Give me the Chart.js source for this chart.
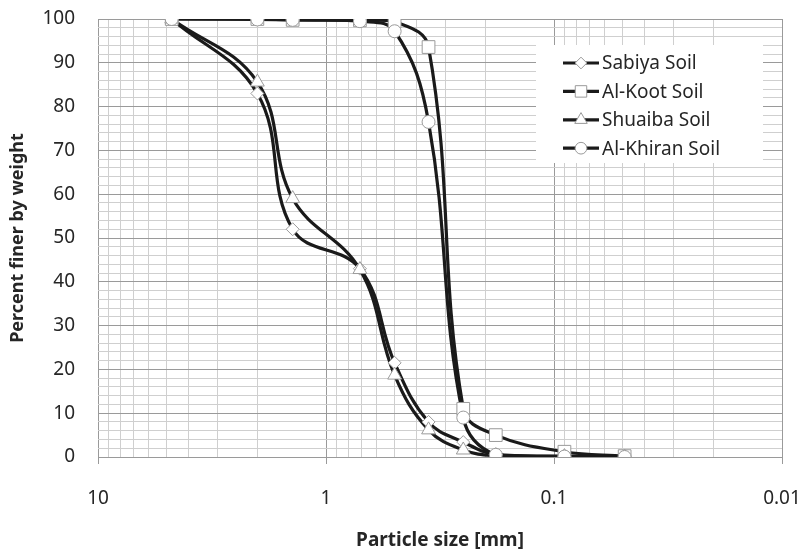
<!DOCTYPE html>
<html>
<head>
<meta charset="utf-8">
<script src="https://cdn.jsdelivr.net/npm/chart.js@4/dist/chart.umd.min.js"></script>
<style>
html,body{margin:0;padding:0;background:#fff;}
#wrap{width:805px;height:550px;position:relative;}
</style>
</head>
<body>
<div id="wrap"><canvas id="c"></canvas></div>
<script>
// ---- data ----
const particleSizes = [4.75, 2.0, 1.4, 0.71, 0.5, 0.355, 0.25, 0.18, 0.09, 0.049];
const sabiyaSoil   = [100, 83, 52, 43, 21.5, 8, 3.4, 0.6, 0.2, 0];
const alKootSoil   = [100, 100, 99.8, 99.7, 99.4, 93.6, 11, 5, 1.2, 0.2];
const shuaibaSoil  = [100, 85.6, 59, 42.8, 18.7, 6.2, 1.6, 0.3, 0.1, 0];
const alKhiranSoil = [100, 99.9, 99.8, 99.5, 97.2, 76.5, 9, 0.5, 0.1, 0];
const seriesNames  = ['Sabiya Soil', 'Al-Koot Soil', 'Shuaiba Soil', 'Al-Khiran Soil'];
const seriesStyles = ['rectRot', 'rect', 'triangle', 'circle'];

const xGridValues = [10, 9, 8, 7, 6, 5, 4, 3, 2,
                     1, 0.9, 0.8, 0.7, 0.6, 0.5, 0.4, 0.3, 0.2,
                     0.1, 0.09, 0.08, 0.07, 0.06, 0.05, 0.04, 0.03, 0.02, 0.01];
const xMajorValues = [10, 1, 0.1, 0.01];
const xMajorLabels = ['10', '1', '0.1', '0.01'];
const yGridValues = [0,2,4,6,8,10,12,14,16,18,20,22,24,26,28,30,32,34,36,38,40,42,44,46,48,50,
                     52,54,56,58,60,62,64,66,68,70,72,74,76,78,80,82,84,86,88,90,92,94,96,98,100];
const yMajorValues = [0, 10, 20, 30, 40, 50, 60, 70, 80, 90, 100];
const yMajorLabels = ['0', '10', '20', '30', '40', '50', '60', '70', '80', '90', '100'];

const xTitle = 'Particle size [mm]';
const yTitle = 'Percent finer by weight';

// ---- styling ----
const FONT = "'Noto Sans', 'Open Sans', sans-serif";
const LINE_COLOR = '#1a1a1a';
const MARKER_EDGE = '#9a9a9a';
const TEXT_COLOR = '#262626';
const GRID_MINOR = '#cfcfcf';
const GRID_MAJOR = '#9a9a9a';
const markerRadius = {rectRot: 6.5, rect: 9, triangle: 8, circle: 6.5};

const allSeries = [sabiyaSoil, alKootSoil, shuaibaSoil, alKhiranSoil];
const toPoints = vals => particleSizes.map((x, j) => ({x: x, y: vals[j]}));

const datasets = [];
allSeries.forEach((vals, i) => {
  datasets.push({
    label: seriesNames[i],
    data: toPoints(vals),
    showLine: false,
    pointStyle: seriesStyles[i],
    pointRadius: markerRadius[seriesStyles[i]],
    pointBackgroundColor: '#ffffff',
    pointBorderColor: MARKER_EDGE,
    pointBorderWidth: 1,
    order: 3 - i
  });
});
allSeries.forEach((vals, i) => {
  datasets.push({
    label: seriesNames[i] + ' line',
    data: toPoints(vals),
    borderColor: LINE_COLOR,
    borderWidth: 3.2,
    pointRadius: 0,
    tension: 0.4,
    fill: false,
    order: 10 + (3 - i)
  });
});

const boxLegend = {
  id: 'boxLegend',
  afterDraw(chart) {
    const ctx = chart.ctx;
    const area = chart.chartArea;
    const bx = area.right - 246, by = area.top + 26, bw = 227, bh = 118;
    ctx.save();
    ctx.fillStyle = '#ffffff';
    ctx.fillRect(bx, by, bw, bh);
    ctx.font = '19px ' + FONT;
    ctx.textBaseline = 'middle';
    ctx.textAlign = 'left';
    for (let i = 0; i < seriesNames.length; i++) {
      const cy = by + 18 + i * 28.4;
      const lx0 = bx + 27, lx1 = bx + 63, mx = (lx0 + lx1) / 2;
      ctx.strokeStyle = LINE_COLOR;
      ctx.lineWidth = 3.2;
      ctx.beginPath(); ctx.moveTo(lx0, cy); ctx.lineTo(lx1, cy); ctx.stroke();
      ctx.fillStyle = '#ffffff';
      ctx.strokeStyle = MARKER_EDGE;
      ctx.lineWidth = 1;
      Chart.helpers.drawPoint(ctx, {pointStyle: seriesStyles[i], radius: markerRadius[seriesStyles[i]] * 0.9, rotation: 0, borderWidth: 1}, mx, cy);
      ctx.fillStyle = TEXT_COLOR;
      ctx.fillText(seriesNames[i], lx1 + 3, cy + 1);
    }
    ctx.restore();
  }
};

new Chart(document.getElementById('c'), {
  type: 'line',
  data: {datasets: datasets},
  plugins: [boxLegend],
  options: {
    responsive: true,
    maintainAspectRatio: false,
    animation: false,
    layout: {padding: {top: 19, right: 23, left: 0, bottom: 0}},
    plugins: {legend: {display: false}, tooltip: {enabled: false}},
    scales: {
      x: {
        type: 'logarithmic',
        reverse: true,
        min: 0.01,
        max: 10,
        afterBuildTicks: s => { s.ticks = xGridValues.map(v => ({value: v})); },
        afterFit: s => { s.height = 93; },
        border: {display: false},
        grid: {
          color: c => xMajorValues.includes(c.tick && c.tick.value) ? GRID_MAJOR : GRID_MINOR,
          tickColor: c => xMajorValues.includes(c.tick && c.tick.value) ? GRID_MAJOR : 'rgba(0,0,0,0)',
          tickLength: 30,
          tickBorderDash: [7, 60],
          lineWidth: 1
        },
        ticks: {
          autoSkip: false,
          maxRotation: 0,
          padding: 0,
          color: TEXT_COLOR,
          font: {family: FONT, size: 19},
          callback: function(value) {
            const k = xMajorValues.indexOf(value);
            return k >= 0 ? xMajorLabels[k] : '';
          }
        },
        title: {
          display: true,
          text: xTitle,
          color: TEXT_COLOR,
          font: {family: FONT, size: 19, weight: 'bold', lineHeight: 1},
          padding: {top: 0, bottom: 0}
        }
      },
      y: {
        type: 'linear',
        min: 0,
        max: 100,
        afterBuildTicks: s => { s.ticks = yGridValues.map(v => ({value: v})); },
        afterFit: s => { s.width = 98; },
        border: {display: false},
        grid: {
          color: c => yMajorValues.includes(c.tick && c.tick.value) ? GRID_MAJOR : GRID_MINOR,
          tickColor: 'rgba(0,0,0,0)',
          tickLength: 23,
          lineWidth: 1
        },
        ticks: {
          autoSkip: false,
          padding: 0,
          color: TEXT_COLOR,
          font: {family: FONT, size: 19},
          callback: function(value) {
            const k = yMajorValues.indexOf(value);
            return k >= 0 ? yMajorLabels[k] : '';
          }
        },
        title: {
          display: true,
          text: yTitle,
          color: TEXT_COLOR,
          font: {family: FONT, size: 18, weight: 'bold', lineHeight: 1},
          padding: {top: 9, bottom: 0}
        }
      }
    }
  }
});
</script>
</body>
</html>
